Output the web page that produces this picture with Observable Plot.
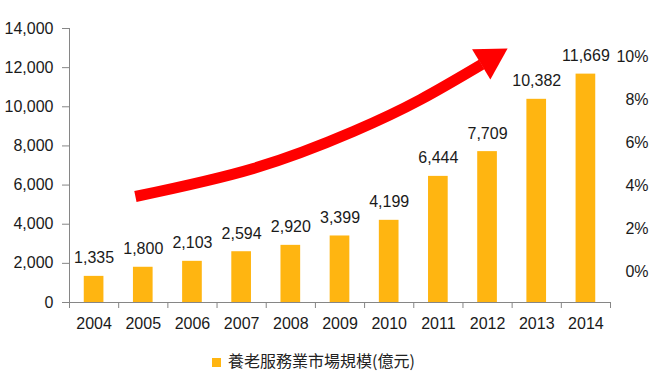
<!DOCTYPE html>
<html>
<head>
<meta charset="utf-8">
<script src="https://cdn.jsdelivr.net/npm/d3@7"></script>
<script src="https://cdn.jsdelivr.net/npm/@observablehq/plot@0.6"></script>
<style>
  body { margin: 0; background: #fff; }
  #chart svg { display: block; }
  .legend { height: 37px; box-sizing: border-box; padding-top: 10px; line-height: 20px;
            font-family: "Noto Sans CJK TC", sans-serif; font-size: 16px; color: #222;
            padding-left: 212px; white-space: nowrap; }
  .legend .sw { display: inline-block; width: 9px; height: 9px; background: #FFB511; margin-right: 7px; vertical-align: 0px; }
</style>
</head>
<body>
<div id="chart"></div>
<div class="legend"><span class="sw"></span>養老服務業市場規模(億元)</div>
<script>
const years = [2004, 2005, 2006, 2007, 2008, 2009, 2010, 2011, 2012, 2013, 2014];
const values = [1335, 1800, 2103, 2594, 2920, 3399, 4199, 6444, 7709, 10382, 11669];
const yTicks = [0, 2000, 4000, 6000, 8000, 10000, 12000, 14000];
const pctTicks = [0, 2, 4, 6, 8, 10];
const pctDomain = [-1.44, 11.3];
// decorative trend arrow (year, value-space)
const arrowX = [2004.84, 2007.24, 2009.27, 2010.64, 2011.88];
const arrowY = [5416, 6847, 8737, 10373, 12161];
const arrowHead = [{x: 2012.05, y: 12437}];
const seriesName = "養老服務業市場規模(億元)";
const barColor = "#FFB511";

const data = years.map((y, i) => ({year: y, value: values[i]}));
const arrowPts = arrowX.map((x, i) => ({x, y: arrowY[i]}));
const boundaries = [years[0] - 0.5, ...years.map(y => y + 0.5)];
const pctToY = d3.scaleLinear().domain(pctDomain).range([0, 14000]);

const chart = Plot.plot({
  width: 655, height: 340,
  marginLeft: 69, marginRight: 45, marginTop: 28, marginBottom: 38,
  x: {type: "linear", domain: [2003.5, 2014.5]},
  y: {domain: [0, 14000]},
  style: {fontFamily: "Liberation Sans, Arial, sans-serif", fontSize: "16px", color: "#222", background: "#fff"},
  marks: [
    Plot.rectY(data, {x1: d => d.year - 0.2, x2: d => d.year + 0.2, y: "value", fill: barColor}),
    Plot.text(data, {x: "year", y: "value", text: d => d3.format(",")(d.value), lineAnchor: "bottom", dy: -13, fill: "#1a1a1a"}),
    Plot.ruleX([2003.5], {stroke: "#868686"}),
    Plot.ruleY([0], {stroke: "#868686"}),
    Plot.axisY(yTicks, {tickSize: 7, tickPadding: 9, tickFormat: d3.format(","), stroke: "#868686", fill: "#1a1a1a", label: null}),
    Plot.axisX(years, {tickSize: 0, tickPadding: 15, tickFormat: d => String(d), fill: "#1a1a1a", label: null}),
    Plot.axisX(boundaries, {tickSize: 6, tickFormat: () => "", stroke: "#868686", label: null}),
    Plot.text(pctTicks, {y: p => pctToY(p), text: p => p + "%", frameAnchor: "right", textAnchor: "end", dx: 38, fill: "#1a1a1a"}),
    Plot.line(arrowPts, {x: "x", y: "y", curve: "natural", stroke: "#FF0000", strokeWidth: 11, strokeLinecap: "butt"}),
    Plot.dot(arrowHead, {x: "x", y: "y", symbol: "triangle", r: 13.2, rotate: 59, fill: "#FF0000", stroke: null})
  ]
});
document.getElementById("chart").appendChild(chart);
</script>
</body>
</html>
